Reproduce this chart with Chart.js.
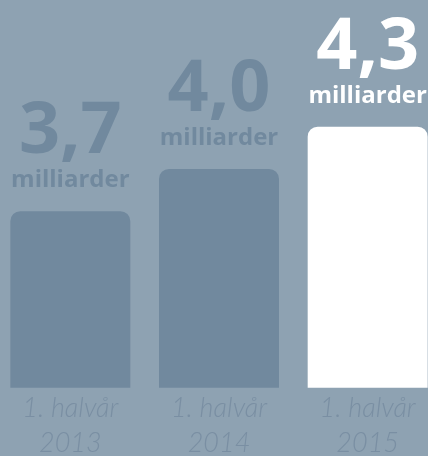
<!DOCTYPE html>
<html>
<head>
<meta charset="utf-8">
<script src="https://cdn.jsdelivr.net/npm/chart.js@4"></script>
<style>
  html, body { margin: 0; padding: 0; background: #8ea2b2; overflow: hidden; width: 428px; height: 456px; }
  #chart { display: block; margin-left: -4px; }
</style>
</head>
<body>
<canvas id="chart" width="446" height="464"></canvas>
<script>
  const categories = [['1. halvår', '2013'], ['1. halvår', '2014'], ['1. halvår', '2015']];
  const values = [3.7, 4.0, 4.3];
  const valueLabels = ['3,7', '4,0', '4,3'];
  const unitLabel = 'milliarder';

  const barColors = ['#71899e', '#71899e', '#ffffff'];
  const textColors = ['#71899e', '#71899e', '#ffffff'];

  // big value + unit drawn above each bar
  const topLabels = {
    id: 'topLabels',
    afterDatasetsDraw(chart) {
      const ctx = chart.ctx;
      const meta = chart.getDatasetMeta(0);
      ctx.save();
      ctx.textAlign = 'center';
      ctx.textBaseline = 'alphabetic';
      meta.data.forEach((bar, i) => {
        ctx.fillStyle = textColors[i];
        ctx.font = "bold 72px 'Open Sans'";
        ctx.fillText(valueLabels[i], bar.x, bar.y - 58);
        ctx.font = "bold 24px 'Open Sans'";
        ctx.fillText(unitLabel, bar.x, bar.y - 24);
      });
      ctx.restore();
    }
  };

  function initChart() {
    const ctx = document.getElementById('chart').getContext('2d');
    new Chart(ctx, {
      type: 'bar',
      data: {
        labels: categories,
        datasets: [{
          data: values,
          backgroundColor: barColors,
          borderRadius: 10,
          borderSkipped: false,
          barPercentage: 0.807,
          categoryPercentage: 1
        }]
      },
      options: {
        responsive: false,
        animation: false,
        layout: { padding: 0 },
        plugins: { legend: { display: false }, tooltip: { enabled: false } },
        scales: {
          x: {
            grid: { display: false, drawTicks: false },
            border: { display: false },
            ticks: {
              color: '#7a8fa3',
              padding: 3,
              font: { family: 'Lato', size: 27, style: 'italic', weight: 300, lineHeight: 1.3 }
            }
          },
          y: {
            display: false,
            min: 2.445,
            max: 5.2
          }
        }
      },
      plugins: [topLabels]
    });
  }

  initChart();
</script>
</body>
</html>
